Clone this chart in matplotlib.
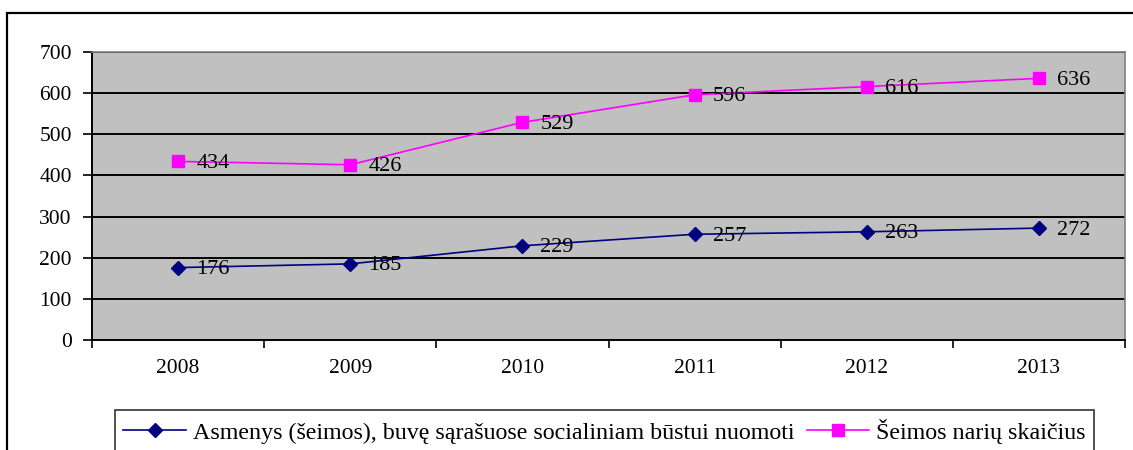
import matplotlib.pyplot as plt
from matplotlib.patches import Rectangle

plt.rcParams['font.family'] = ['Liberation Serif', 'DejaVu Serif']

years = ['2008', '2009', '2010', '2011', '2012', '2013']
asmenys = [176, 185, 229, 257, 263, 272]
nariai = [434, 426, 529, 596, 616, 636]
label_asm = 'Asmenys (šeimos), buvę sąrašuose socialiniam būstui nuomoti'
label_nar = 'Šeimos narių skaičius'

fig = plt.figure(figsize=(11.33, 4.5), dpi=100)
# outer chart frame (cut at the right and bottom)
fig.patches.append(Rectangle((7/1133, -0.05), 1.2, 0.05 + 437/450, transform=fig.transFigure,
                             fill=False, edgecolor='black', linewidth=1.6, clip_on=False))

ax = fig.add_axes([92/1133, 110/450, 1033/1133, 288/450])
ax.set_facecolor('#c0c0c0')
x = range(len(years))

ax.plot(x, asmenys, color='#000080', marker='D', markersize=7.5, linewidth=1.2, label=label_asm)
ax.plot(x, nariai, color='#ff00ff', marker='s', markersize=8, linewidth=1.2, label=label_nar)

for xi, v in zip(x, asmenys):
    ax.annotate(str(v), (xi, v), xytext=(13, -1.5), textcoords='offset points',
                ha='left', va='center', fontsize=16)
for xi, v in zip(x, nariai):
    ax.annotate(str(v), (xi, v), xytext=(13, -1.5), textcoords='offset points',
                ha='left', va='center', fontsize=16)

ax.set_xlim(-0.5, 5.5)
ax.set_ylim(0, 700)
ax.set_yticks(range(0, 701, 100))
ax.yaxis.grid(True, color='black', linewidth=1.4)
ax.set_axisbelow(True)

ax.set_xticks(list(x))
ax.set_xticklabels(years, fontsize=15.5)
ax.set_xticks([i - 0.5 for i in range(7)], minor=True)
ax.tick_params(axis='x', which='major', length=0, pad=14)
ax.tick_params(axis='x', which='minor', length=6, width=1.2, direction='out')
ax.tick_params(axis='y', length=6.5, width=1.2, direction='out', labelsize=15.5, pad=8)

for s in ['left', 'bottom']:
    ax.spines[s].set_color('black')
    ax.spines[s].set_linewidth(1.4)
for s in ['top', 'right']:
    ax.spines[s].set_color('#808080')
    ax.spines[s].set_linewidth(1.2)

leg = fig.legend(loc='lower left', bbox_to_anchor=(115/1133, -2/450), ncol=2, fontsize=17.3,
                 frameon=True, fancybox=False, edgecolor='black', handlelength=2.6,
                 columnspacing=0.5, handletextpad=0.3, borderpad=0.35, borderaxespad=0)
leg.get_frame().set_linewidth(1.2)

fig.savefig('out.png', dpi=100)
